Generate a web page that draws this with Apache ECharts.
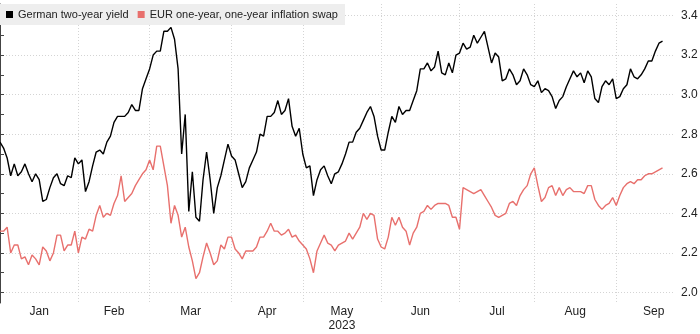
<!DOCTYPE html>
<html>
<head>
<meta charset="utf-8">
<script src="https://cdn.jsdelivr.net/npm/echarts@6/dist/echarts.min.js"></script>
<style>
html,body{margin:0;padding:0;background:#fff;}
#chart{width:700px;height:334px;}
</style>
</head>
<body>
<div id="chart"></div>
<script>
// Trading-day series (index 0 = first trading day of Jan 2023)
const germanYield = [
  2.76, 2.73, 2.68, 2.59, 2.65, 2.59, 2.61, 2.65, 2.60, 2.56,
  2.60, 2.57, 2.46, 2.47, 2.53, 2.58, 2.60, 2.55, 2.54, 2.59,
  2.58, 2.68, 2.65, 2.67, 2.51, 2.56, 2.64, 2.71, 2.72, 2.70,
  2.76, 2.79, 2.86, 2.89, 2.89, 2.89, 2.91, 2.95, 2.92, 2.92,
  3.03, 3.08, 3.13, 3.20, 3.22, 3.22, 3.32, 3.32, 3.34, 3.28,
  3.13, 2.70, 2.90, 2.41, 2.61, 2.38, 2.36, 2.57, 2.71, 2.57,
  2.40, 2.53, 2.59, 2.67, 2.75, 2.69, 2.67, 2.60, 2.53, 2.56,
  2.63, 2.67, 2.71, 2.80, 2.79, 2.89, 2.89, 2.91, 2.97, 2.90,
  2.92, 2.98, 2.84, 2.79, 2.83, 2.70, 2.63, 2.64, 2.49, 2.57,
  2.62, 2.64, 2.59, 2.55, 2.60, 2.61, 2.65, 2.70, 2.76, 2.76,
  2.81, 2.83, 2.87, 2.91, 2.94, 2.89, 2.79, 2.72, 2.72, 2.81,
  2.89, 2.86, 2.94, 2.90, 2.92, 2.92, 2.97, 3.02, 3.13, 3.13,
  3.16, 3.12, 3.14, 3.22, 3.11, 3.10, 3.16, 3.11, 3.20, 3.21,
  3.26, 3.23, 3.24, 3.30, 3.26, 3.29, 3.32, 3.24, 3.16, 3.21,
  3.19, 3.07, 3.08, 3.13, 3.10, 3.05, 3.07, 3.13, 3.10, 3.05,
  3.04, 3.07, 3.01, 3.03, 3.02, 2.99, 2.93, 2.97, 2.99, 3.04,
  3.08, 3.12, 3.09, 3.11, 3.06, 3.12, 3.09, 2.98, 2.96, 3.04,
  3.07, 3.05, 3.08, 2.98, 2.99, 3.03, 3.05, 3.13, 3.09, 3.08,
  3.10, 3.13, 3.17, 3.17, 3.22, 3.26, 3.27
];
const inflationSwap = [
  2.31, 2.31, 2.33, 2.20, 2.24, 2.24, 2.17, 2.18, 2.14, 2.19,
  2.17, 2.14, 2.23, 2.21, 2.16, 2.20, 2.29, 2.29, 2.21, 2.24,
  2.24, 2.31, 2.20, 2.28, 2.27, 2.32, 2.31, 2.39, 2.44, 2.38,
  2.40, 2.39, 2.45, 2.49, 2.59, 2.46, 2.48, 2.50, 2.54, 2.57,
  2.60, 2.62, 2.67, 2.62, 2.74, 2.74, 2.64, 2.54, 2.35, 2.44,
  2.39, 2.28, 2.33, 2.23, 2.16, 2.07, 2.10, 2.18, 2.25, 2.20,
  2.14, 2.16, 2.24, 2.22, 2.28, 2.28, 2.22, 2.20, 2.17, 2.21,
  2.21, 2.21, 2.23, 2.28, 2.28, 2.31, 2.35, 2.31, 2.31, 2.29,
  2.30, 2.32, 2.28, 2.29, 2.26, 2.24, 2.22, 2.17, 2.10, 2.21,
  2.25, 2.29, 2.25, 2.24, 2.21, 2.24, 2.25, 2.26, 2.30, 2.27,
  2.30, 2.33, 2.40, 2.37, 2.40, 2.39, 2.27, 2.23, 2.22, 2.28,
  2.38, 2.34, 2.38, 2.33, 2.31, 2.24, 2.30, 2.33, 2.40, 2.41,
  2.44, 2.42, 2.44, 2.45, 2.45, 2.45, 2.44, 2.38, 2.38, 2.32,
  2.53, 2.52, 2.51, 2.50, 2.51, 2.52, 2.49, 2.46, 2.43, 2.39,
  2.38, 2.39, 2.40, 2.45, 2.46, 2.44, 2.49, 2.52, 2.54, 2.60,
  2.63, 2.54, 2.46, 2.48, 2.53, 2.54, 2.49, 2.53, 2.49, 2.52,
  2.53, 2.51, 2.51, 2.51, 2.50, 2.54, 2.54, 2.47, 2.44, 2.42,
  2.44, 2.45, 2.48, 2.44, 2.49, 2.53, 2.55, 2.56, 2.55, 2.57,
  2.57, 2.59, 2.60, 2.60, 2.61, 2.62, 2.63
];
const seriesNames = ['German two-year yield', 'EUR one-year, one-year inflation swap'];
const monthLabels = ['Jan', 'Feb', 'Mar', 'Apr', 'May', 'Jun', 'Jul', 'Aug', 'Sep'];
const yearLabel = '2023';
const yearLabelMonth = 'May';
// trading-day index where each month starts (last entry = start of October)
const monthStartIdx = [0, 22, 42, 65, 85, 107, 129, 150, 173, 194];
const yTickLabels = [2.0, 2.2, 2.4, 2.6, 2.8, 3.0, 3.2, 3.4];
const yMinorTicks = [2.0, 2.1, 2.2, 2.3, 2.4, 2.5, 2.6, 2.7, 2.8, 2.9, 3.0, 3.1, 3.2, 3.3, 3.4];

const monthCenters = monthLabels.map((m, k) => (monthStartIdx[k] + monthStartIdx[k + 1]) / 2);
const monthLines = monthStartIdx.slice(1, monthLabels.length);

const FONT = 'Liberation Sans, Arial, sans-serif';
const GRID_LINE = {color: '#d4d4d4', width: 1, type: [1, 2]};
const chart = echarts.init(document.getElementById('chart'), null, {renderer: 'canvas'});
const yMin = 1.947, yMax = 3.458;

chart.setOption({
  animation: false,
  backgroundColor: '#ffffff',
  grid: {left: 0, right: 25, top: 4, bottom: 31, outerBoundsMode: 'none', containLabel: false},
  legend: {
    left: 0, top: 4,
    padding: [5, 7, 5, 6],
    backgroundColor: '#eeeeee',
    itemWidth: 7, itemHeight: 7, itemGap: 9,
    icon: 'rect',
    textStyle: {fontFamily: FONT, fontSize: 11, color: '#222'},
    data: seriesNames
  },
  xAxis: {
    type: 'value', min: 0, max: 189.5,
    axisLine: {show: false},
    axisTick: {show: false, customValues: monthLines},
    splitLine: {show: true, lineStyle: GRID_LINE},
    axisLabel: {
      customValues: monthCenters,
      margin: 2,
      fontFamily: FONT, fontSize: 12, color: '#222', lineHeight: 14,
      formatter: function (v) {
        let k = monthCenters.findIndex(c => Math.abs(c - v) < 0.01);
        if (k < 0) return '';
        return monthLabels[k] === yearLabelMonth ? monthLabels[k] + '\n' + yearLabel : monthLabels[k];
      }
    }
  },
  yAxis: [
    {
      type: 'value', position: 'right', min: yMin, max: yMax,
      axisLine: {show: true, lineStyle: {color: '#444', width: 1}},
      axisTick: {show: true, inside: false, length: 4, customValues: yMinorTicks, lineStyle: {color: '#444', width: 1}},
      axisLabel: {
        customValues: yTickLabels, margin: 6,
        fontFamily: FONT, fontSize: 12, color: '#222',
        formatter: v => v.toFixed(1)
      },
      splitLine: {show: false}
    },
    {
      type: 'value', position: 'right', min: yMin, max: yMax,
      axisLine: {show: false},
      axisTick: {show: false, customValues: yTickLabels},
      axisLabel: {show: false},
      splitLine: {show: true, lineStyle: GRID_LINE}
    }
  ],
  series: [
    {
      name: seriesNames[0], type: 'line', yAxisIndex: 0, z: 3,
      showSymbol: false, symbol: 'none',
      color: '#000000',
      lineStyle: {color: '#000000', width: 1.4},
      data: germanYield.map((v, i) => [i, v])
    },
    {
      name: seriesNames[1], type: 'line', yAxisIndex: 0, z: 2,
      showSymbol: false, symbol: 'none',
      color: '#e8706d',
      lineStyle: {color: '#e8706d', width: 1.4},
      data: inflationSwap.map((v, i) => [i, v])
    }
  ]
});
</script>
</body>
</html>
